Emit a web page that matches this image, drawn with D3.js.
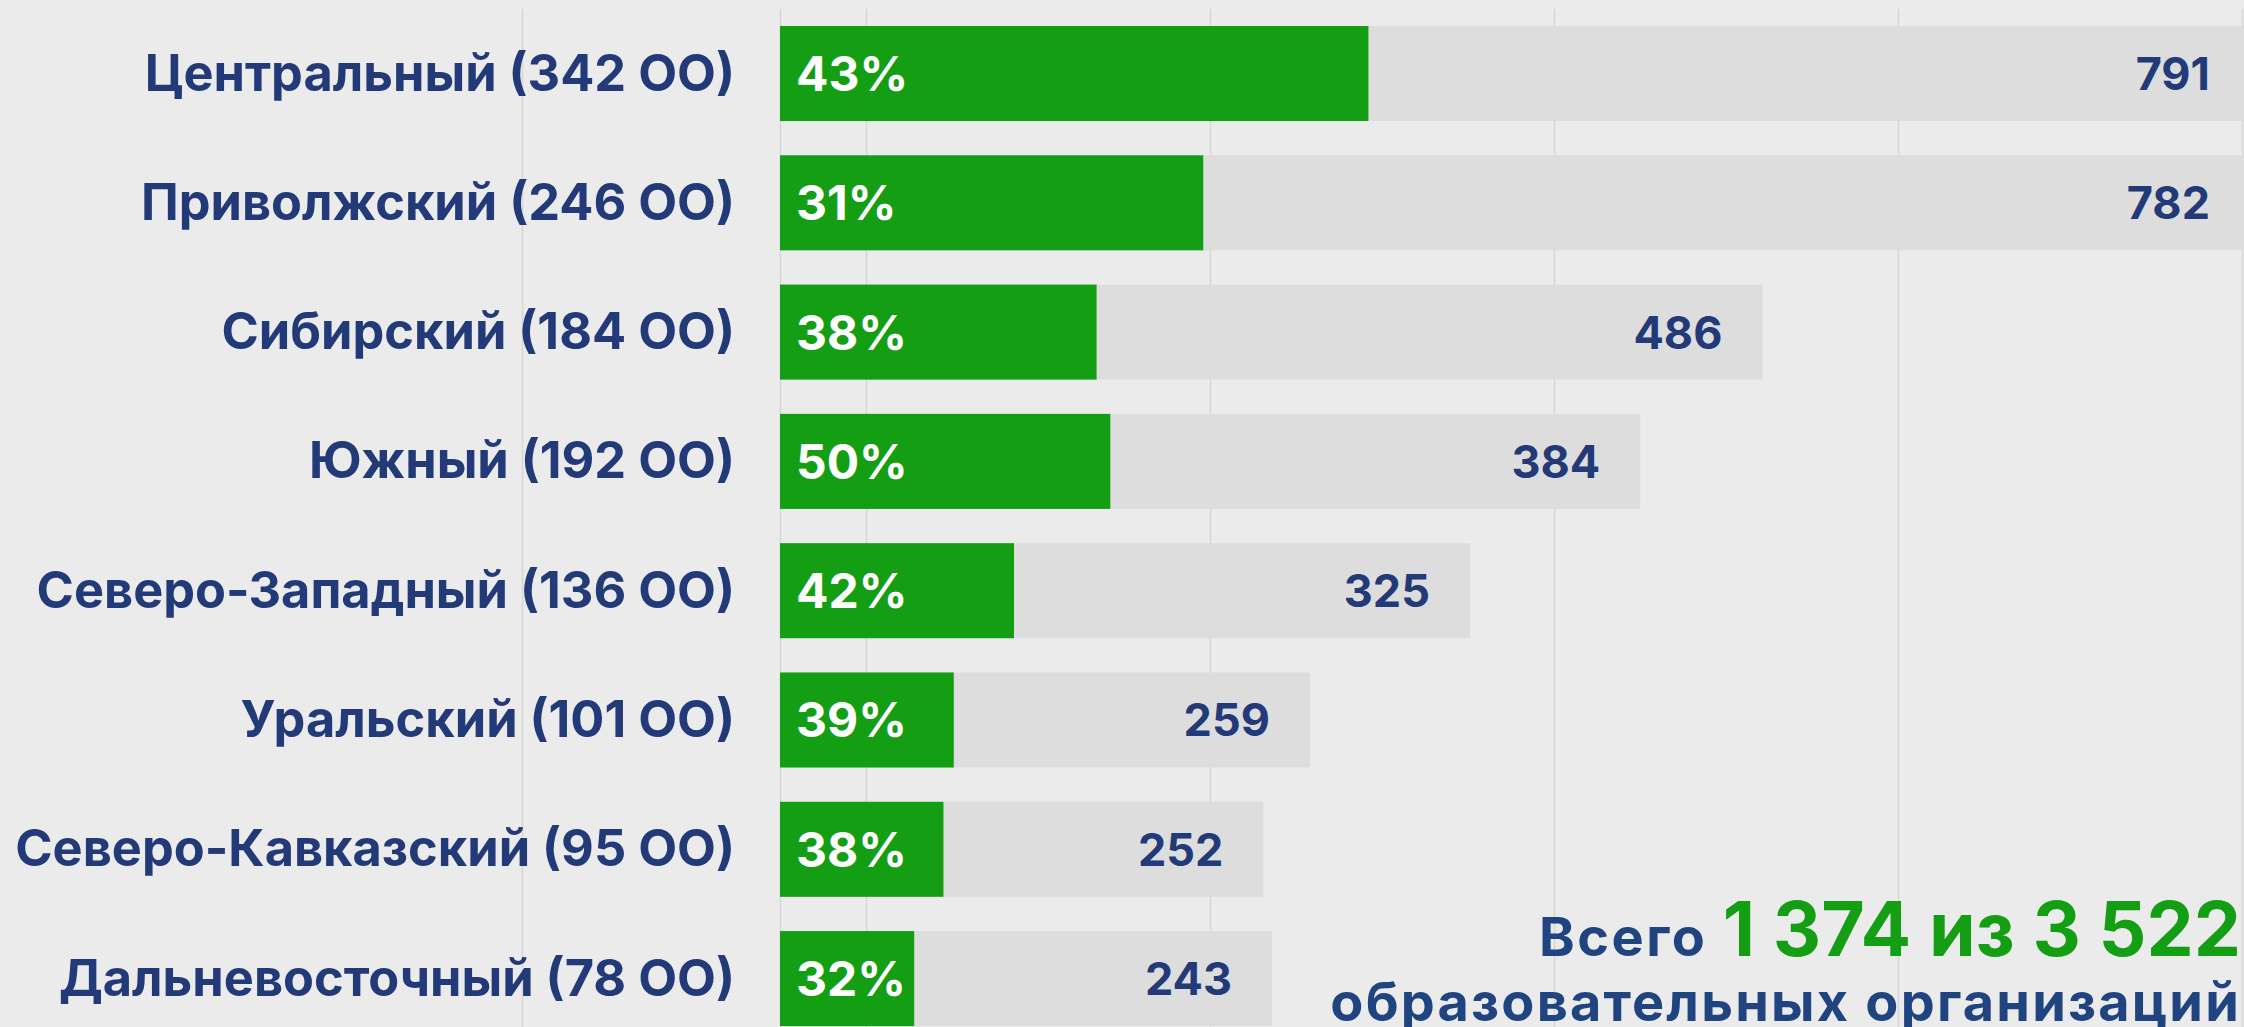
<!DOCTYPE html>
<html>
<head>
<meta charset="utf-8">
<script src="https://cdn.jsdelivr.net/npm/d3@7"></script>
<style>
  body { margin: 0; background: #ebebeb; }
  svg { display: block; font-family: Inter, "Open Sans", sans-serif; font-weight: 700; }
</style>
</head>
<body>
<div id="chart"></div>
<script>
// data
const regions = ["Центральный", "Приволжский", "Сибирский", "Южный", "Северо-Западный", "Уральский", "Северо-Кавказский", "Дальневосточный"];
const participants = [342, 246, 184, 192, 136, 101, 95, 78];   // ОО taking part (green bars)
const totals = [791, 782, 486, 384, 325, 259, 252, 243];       // printed totals
const shares = [43, 31, 38, 50, 42, 39, 38, 32];               // printed percentages
const backBars = [860, 860, 571, 500, 401, 308, 281, 286];     // grey bar length, same units as green
const gridTicks = [-150, 50, 250, 450, 650, 850];

const navy = "#233a78", green = "#149e14", grey = "#dddddd", gridCol = "#d6d6d6";

const W = 2244, H = 1027;
const margin = {top: 26, left: 780};

const data = regions.map((r, i) => ({
    region: r, part: participants[i], total: totals[i], share: shares[i], back: backBars[i]
}));

const svg = d3.select("#chart").append("svg")
    .attr("width", W)
    .attr("height", H);

svg.append("rect").attr("width", W).attr("height", H).attr("fill", "#ebebeb");

// scales
const x = d3.scaleLinear()
    .domain([0, 850])
    .range([margin.left, margin.left + 850 * 1.7205]);

const y = d3.scaleBand()
    .domain(regions)
    .range([margin.top, margin.top + 129.3 * 8 - 34.3])
    .paddingInner(0.265)
    .paddingOuter(0);

// grid
svg.append("g")
    .selectAll("line")
    .data(gridTicks.concat([0]))
    .join("line")
    .attr("x1", d => Math.round(x(d)) + 0.5)
    .attr("x2", d => Math.round(x(d)) + 0.5)
    .attr("y1", 9)
    .attr("y2", H)
    .attr("stroke", gridCol)
    .attr("stroke-width", 1.5);

// grey bars
svg.append("g")
    .selectAll("rect")
    .data(data)
    .join("rect")
    .attr("x", x(0))
    .attr("y", d => y(d.region))
    .attr("width", d => x(d.back) - x(0))
    .attr("height", y.bandwidth())
    .attr("fill", grey);

// green bars
svg.append("g")
    .selectAll("rect")
    .data(data)
    .join("rect")
    .attr("x", x(0))
    .attr("y", d => y(d.region))
    .attr("width", d => x(d.part) - x(0))
    .attr("height", y.bandwidth())
    .attr("fill", green);

const mid = d => y(d.region) + y.bandwidth() / 2;

// region labels
svg.append("g")
    .selectAll("text")
    .data(data)
    .join("text")
    .attr("x", 735)
    .attr("y", d => mid(d) + 17)
    .attr("text-anchor", "end")
    .attr("font-size", 50.5)
    .attr("fill", navy)
    .text(d => `${d.region} (${d.part} ОО)`);

// percent labels
svg.append("g")
    .selectAll("text")
    .data(data)
    .join("text")
    .attr("x", x(0) + 16)
    .attr("y", d => mid(d) + 17.5)
    .attr("font-size", 48)
    .attr("fill", "#ffffff")
    .text(d => d.share + "%");

// totals
svg.append("g")
    .selectAll("text")
    .data(data)
    .join("text")
    .attr("x", d => Math.min(x(d.back), W + 6) - 40)
    .attr("y", d => mid(d) + 16.4)
    .attr("text-anchor", "end")
    .attr("font-size", 45)
    .attr("fill", navy)
    .text(d => d.total);

// summary
const fmt = d3.formatLocale({decimal: ",", thousands: " ", grouping: [3], currency: ["", ""]}).format(",d");
const sumPart = d3.sum(participants), sumTotal = d3.sum(totals);

const line1 = svg.append("text")
    .attr("x", 2241)
    .attr("y", 956)
    .attr("text-anchor", "end");
line1.append("tspan")
    .attr("font-size", 54)
    .attr("letter-spacing", 2.5)
    .attr("fill", "#1f4480")
    .text("Всего ");
line1.append("tspan")
    .attr("font-size", 75)
    .attr("fill", green)
    .text(`${fmt(sumPart)} из ${fmt(sumTotal)}`);

svg.append("text")
    .attr("x", 2241)
    .attr("y", 1021)
    .attr("text-anchor", "end")
    .attr("font-size", 54)
    .attr("letter-spacing", 2.2)
    .attr("fill", "#1f4480")
    .text("образовательных организаций");
</script>
</body>
</html>
